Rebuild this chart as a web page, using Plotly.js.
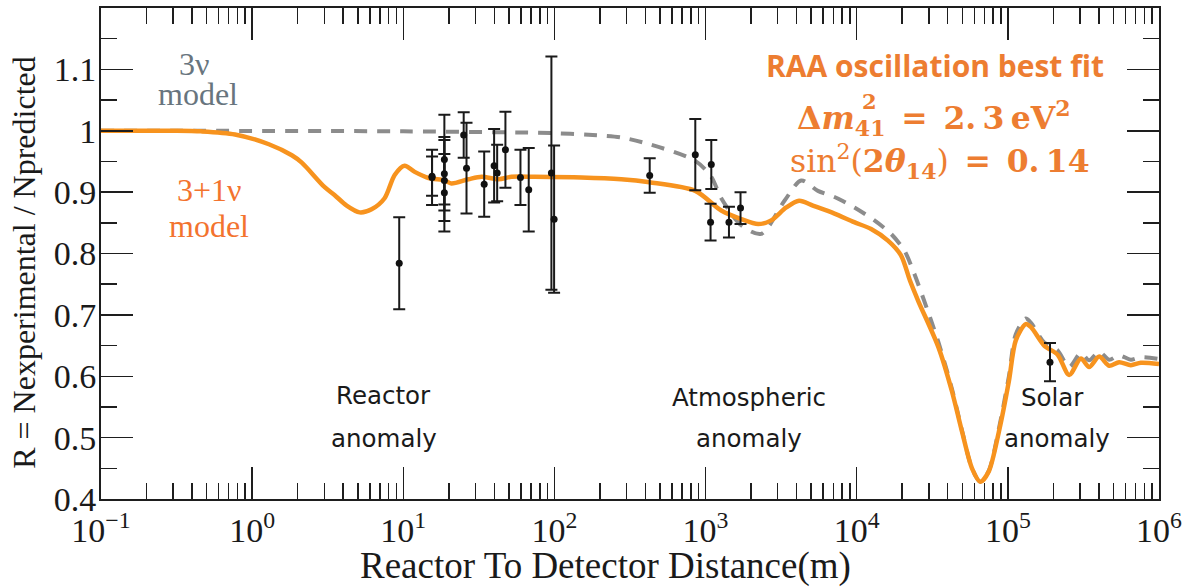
<!DOCTYPE html>
<html>
<head>
<meta charset="utf-8">
<script src="https://cdn.plot.ly/plotly-3.0.1.min.js"></script>
<style>
  html, body { margin: 0; padding: 0; background: #ffffff; }
  #chart { width: 1186px; height: 588px; }
</style>
</head>
<body>
<div id="chart"></div>
<script>
// Reactor-to-detector distance (m) and ratio R for the 3+1 nu best-fit curve
const sterileL = [0.1, 0.31, 0.46, 0.77, 1.29, 1.83, 2.13, 3.02, 3.52, 4.22, 5.14, 6.17, 7.52, 8.77,
  10.2, 11.9, 14.7, 18.8, 20.8, 27.0, 33.0, 42.7, 52.0, 73.9, 151, 277, 425, 855, 1270, 1722, 2228,
  2716, 3414, 4160, 5130, 7130, 9620, 12450, 16100, 19630, 22500, 25500, 34750, 42600, 49700, 57900,
  65800, 74800, 87300, 101600, 112700, 131300, 142300, 174000, 213500, 254500, 304300, 345000,
  401900, 467900, 544800, 651000, 758000, 1000000];
const sterileR = [1.000, 1.000, 0.999, 0.994, 0.978, 0.960, 0.948, 0.908, 0.895, 0.878, 0.867, 0.872,
  0.890, 0.928, 0.943, 0.933, 0.923, 0.919, 0.914, 0.921, 0.925, 0.921, 0.925, 0.925, 0.924, 0.921,
  0.916, 0.902, 0.870, 0.856, 0.848, 0.854, 0.875, 0.886, 0.878, 0.865, 0.851, 0.840, 0.821, 0.797,
  0.756, 0.723, 0.647, 0.576, 0.510, 0.450, 0.428, 0.445, 0.510, 0.592, 0.658, 0.685, 0.680, 0.650,
  0.635, 0.602, 0.629, 0.615, 0.632, 0.617, 0.623, 0.618, 0.622, 0.620];

// Standard three-flavour curve
const threeL = [0.1, 10, 100, 205, 277, 425, 855, 1091, 1270, 1722, 2333, 3327, 4295, 5537, 7127,
  9660, 13100, 16870, 20660, 24050, 34750, 42600, 49700, 57900, 65800, 74800, 87300, 101600, 112700,
  131300, 142300, 174000, 213500, 254500, 304300, 345000, 401900, 467900, 544800, 651000, 758000,
  1000000];
const threeR = [1.000, 0.999, 0.996, 0.992, 0.989, 0.978, 0.951, 0.925, 0.890, 0.846, 0.832, 0.886,
  0.919, 0.902, 0.892, 0.875, 0.854, 0.832, 0.805, 0.767, 0.655, 0.580, 0.512, 0.450, 0.428, 0.446,
  0.515, 0.600, 0.668, 0.694, 0.687, 0.655, 0.642, 0.615, 0.638, 0.626, 0.640, 0.627, 0.634, 0.627,
  0.631, 0.628];

// Measured ratios with their uncertainties
const expL = [9.4, 15.5, 15.5, 18.7, 18.7, 18.7, 18.7, 25.1, 26.2, 34.3, 39.9, 41.8, 47.4, 59.6,
  67.6, 95.5, 99.5, 427, 855, 1079, 1091, 1428, 1703, 190000];
const expR = [0.784, 0.924, 0.926, 0.953, 0.930, 0.919, 0.899, 0.993, 0.939, 0.913, 0.943, 0.931,
  0.969, 0.924, 0.904, 0.931, 0.856, 0.927, 0.961, 0.851, 0.945, 0.851, 0.874, 0.623];
const expErr = [0.075, 0.045, 0.032, 0.073, 0.060, 0.066, 0.063, 0.037, 0.074, 0.053, 0.060, 0.046,
  0.062, 0.045, 0.068, 0.190, 0.120, 0.028, 0.058, 0.030, 0.040, 0.025, 0.026, 0.031];

// Axis ticks
const xTickVals = [0.1, 1, 10, 100, 1000, 10000, 100000, 1000000];
const xTickText = ['10<sup>\u22121</sup>', '10<sup>0</sup>', '10<sup>1</sup>', '10<sup>2</sup>',
  '10<sup>3</sup>', '10<sup>4</sup>', '10<sup>5</sup>', '10<sup>6</sup>'];
const yTickVals = [0.4, 0.5, 0.6, 0.7, 0.8, 0.9, 1.0, 1.1];
const yTickText = ['0.4', '0.5', '0.6', '0.7', '0.8', '0.9', '1', '1.1'];
const yMinorVals = [0.45, 0.55, 0.65, 0.75, 0.85, 0.95, 1.05, 1.15];
const xMinorVals = [];
for (let e = -1; e < 6; e++) {
  for (let d = 2; d <= 9; d++) xMinorVals.push(d * Math.pow(10, e));
}

const ORANGE = '#F7931E';
const TEXT_ORANGE = '#ED7D31';
const SERIF = 'Liberation Serif, DejaVu Serif, serif';
const MATH = 'DejaVu Serif, serif';
const SANS = 'DejaVu Sans, Verdana, sans-serif';
const AXIS_COLOR = '#1e1e1e';
const INK = '#1a1a1a';

const traces = [
  {
    x: threeL, y: threeR, type: 'scatter', mode: 'lines', name: '3\u03bd',
    line: { color: '#8c8c8c', width: 4, dash: '13px,10px', shape: 'spline', smoothing: 0.8 },
    hoverinfo: 'skip'
  },
  {
    x: sterileL, y: sterileR, type: 'scatter', mode: 'lines', name: '3+1\u03bd',
    line: { color: ORANGE, width: 4.5, shape: 'spline', smoothing: 0.8 },
    hoverinfo: 'skip'
  },
  {
    x: expL, y: expR, type: 'scatter', mode: 'markers', name: 'data',
    marker: { color: '#111111', size: 7 },
    error_y: { type: 'data', array: expErr, visible: true, color: INK, thickness: 2, width: 6 },
    hoverinfo: 'skip'
  }
];

const lg = Math.log10;

function note(text, L, R, font) {
  return { text: text, x: lg(L), y: R, xref: 'x', yref: 'y', showarrow: false,
           xanchor: 'center', yanchor: 'middle', font: font };
}

const grayFont = { family: SERIF, size: 32, color: '#68757e' };
const redFont = { family: SERIF, size: 32, color: '#F3732E' };
const sansFont = { family: SANS, size: 24.5, color: INK };
const fitFont = { family: MATH, size: 31.5, color: TEXT_ORANGE };

const annotations = [
  note('3\u03bd', 0.41, 1.109, grayFont),
  note('model', 0.44, 1.060, grayFont),
  note('3+1\u03bd', 0.52, 0.903, redFont),
  note('model', 0.52, 0.845, redFont),
  note('Reactor', 7.4, 0.569, sansFont),
  note('anomaly', 7.5, 0.499, sansFont),
  note('Atmospheric', 1950, 0.566, sansFont),
  note('anomaly', 1950, 0.499, sansFont),
  note('Solar', 198000, 0.566, sansFont),
  note('anomaly', 211000, 0.499, sansFont),
  note('<b>RAA oscillation best fit</b>', 33000, 1.107,
       { family: 'Open Sans, Lato, sans-serif', size: 30, color: TEXT_ORANGE }),
  note('<b>\u0394<i>m</i><sub>41</sub>\u2002=\u20022.\u20093\u2009eV<sup>2</sup></b>', 32500, 1.020, fitFont),
  note('<b>2</b>', 32500, 1.020, { family: MATH, size: 21, color: TEXT_ORANGE }),
  note('sin<sup>2</sup>(<b>2<i>\u03b8</i><sub>14</sub></b>)\u2002<b>=\u20020.\u200914</b>', 35600, 0.950, fitFont),
  // axis titles
  { text: 'Reactor To Detector Distance(m)', xref: 'paper', yref: 'paper', x: 0.477, y: -0.136,
    showarrow: false, xanchor: 'center', yanchor: 'middle',
    font: { family: SERIF, size: 37, color: INK } },
  { text: 'R = Nexperimental / Npredicted', xref: 'paper', yref: 'paper', x: -0.0728, y: 0.483,
    textangle: -90, showarrow: false, xanchor: 'center', yanchor: 'middle',
    font: { family: SERIF, size: 32, color: INK } }
];
// the squared index of m sits above its subscript
annotations[12].xshift = -65;
annotations[12].yshift = 17;

const layout = {
  width: 1186, height: 588,
  margin: { l: 101, r: 27, t: 8, b: 89 },
  paper_bgcolor: '#ffffff', plot_bgcolor: '#ffffff',
  showlegend: false,
  xaxis: {
    type: 'log', range: [-1, 6],
    showline: true, linecolor: AXIS_COLOR, linewidth: 2, mirror: 'allticks',
    showgrid: false, zeroline: false,
    ticks: 'inside', ticklen: 32, tickwidth: 1.5, tickcolor: AXIS_COLOR,
    tickmode: 'array', tickvals: xTickVals, ticktext: xTickText,
    tickfont: { family: SERIF, size: 34, color: INK },
    minor: { tickmode: 'array', tickvals: xMinorVals, ticks: 'inside', ticklen: 16,
             tickwidth: 1.5, tickcolor: AXIS_COLOR, showgrid: false }
  },
  yaxis: {
    range: [0.4, 1.2],
    showline: true, linecolor: AXIS_COLOR, linewidth: 2, mirror: 'allticks',
    showgrid: false, zeroline: false,
    ticks: 'inside', ticklen: 32, tickwidth: 1.5, tickcolor: AXIS_COLOR,
    tickmode: 'array', tickvals: yTickVals, ticktext: yTickText,
    ticklabelstandoff: -4,
    tickfont: { family: SERIF, size: 34, color: INK },
    minor: { tickmode: 'array', tickvals: yMinorVals, ticks: 'inside', ticklen: 16,
             tickwidth: 1.5, tickcolor: AXIS_COLOR, showgrid: false }
  },
  annotations: annotations
};

Plotly.newPlot('chart', traces, layout, { staticPlot: true, displayModeBar: false });
</script>
</body>
</html>
